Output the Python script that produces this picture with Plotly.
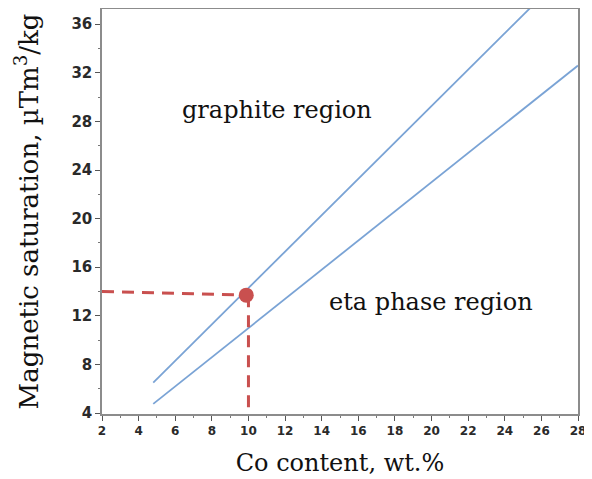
import plotly.graph_objects as go

# Boundary lines (Co content wt.% vs magnetic saturation)
upper_x = [4.8, 25.5]
upper_y = [6.5, 37.5]
lower_x = [4.8, 28.0]
lower_y = [4.75, 32.6]

# Example point and guide lines
point_x = [9.88]
point_y = [13.7]
hguide_x = [2.0, 9.88]
hguide_y = [14.0, 13.7]
vguide_x = [10.0, 10.0]
vguide_y = [13.7, 3.92]

x_ticks = list(range(2, 29, 2))
y_ticks = list(range(4, 37, 4))

blue = "#7aa3d5"
red = "#c9504f"
serif = "DejaVu Serif"

fig = go.Figure()
for xs, ys in [(upper_x, upper_y), (lower_x, lower_y)]:
    fig.add_trace(go.Scatter(x=xs, y=ys, mode="lines",
                             line=dict(color=blue, width=1.8), showlegend=False))
fig.add_trace(go.Scatter(x=hguide_x, y=hguide_y, mode="lines",
                         line=dict(color=red, width=3, dash="12px,8px"), showlegend=False))
fig.add_trace(go.Scatter(x=vguide_x, y=vguide_y, mode="lines",
                         line=dict(color=red, width=3, dash="12px,8px"), showlegend=False))
fig.add_trace(go.Scatter(x=point_x, y=point_y, mode="markers",
                         marker=dict(color=red, size=15), showlegend=False))

fig.add_annotation(x=11.56, y=28.94, text="graphite region", showarrow=False,
                   xanchor="center", yanchor="middle",
                   font=dict(family=serif, size=24, color="#111"))
fig.add_annotation(x=19.98, y=13.14, text="eta phase region", showarrow=False,
                   xanchor="center", yanchor="middle",
                   font=dict(family=serif, size=24, color="#111"))

axis_common = dict(showline=True, linecolor="#8c8c8c", linewidth=1.5, mirror=True,
                   showgrid=False, zeroline=False, ticks="outside", ticklen=5,
                   automargin=False, tickcolor="#555")

fig.update_layout(
    width=584, height=471,
    margin=dict(l=94, r=14, t=1, b=65),
    plot_bgcolor="white", paper_bgcolor="white",
    xaxis=dict(range=[2, 28], tickvals=x_ticks,
               tickfont=dict(family="DejaVu Sans", size=12, color="#2a2a2a", weight="bold"),
               minor=dict(dtick=1, tick0=2, ticks="outside", ticklen=2, tickcolor="#777"),
               title=dict(text="Co content, wt.%", font=dict(family=serif, size=24, color="#111"),
                          standoff=17),
               **axis_common),
    yaxis=dict(range=[3.92, 37.25], tickvals=y_ticks,
               tickfont=dict(family="DejaVu Sans", size=15, color="#2a2a2a", weight="bold"),
               minor=dict(dtick=2, tick0=4, ticks="outside", ticklen=2, tickcolor="#777"),
               title=dict(text="Magnetic saturation, µTm<sup>3</sup>/kg",
                          font=dict(family=serif, size=26, color="#111"), standoff=25),
               **axis_common),
)

fig.write_html("out.html")
